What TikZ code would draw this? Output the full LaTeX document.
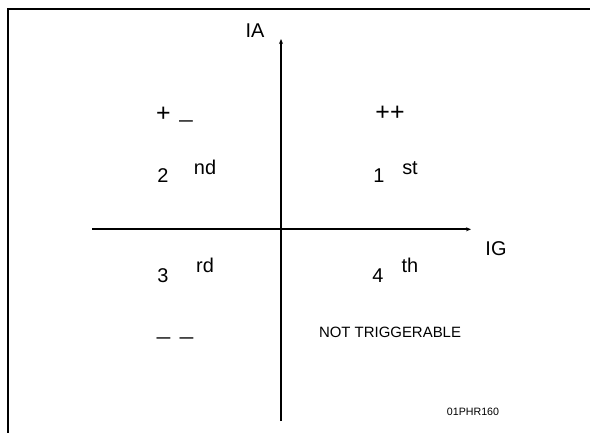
\documentclass[tikz,border=0pt]{standalone}
\usepackage{fontspec}
\setmainfont{Liberation Sans}
\usetikzlibrary{arrows.meta}
\begin{document}
\begin{tikzpicture}[x=1bp,y=-1bp,
  lbl/.style={inner sep=0pt,anchor=base,font=\fontsize{20}{20}\selectfont},
  pluslbl/.style={inner sep=0pt,anchor=base,font=\fontsize{25}{25}\selectfont},
  dashlbl/.style={lbl,xscale=1.25},
  small/.style={inner sep=0pt,anchor=base,font=\fontsize{15}{15}\selectfont},
  tiny/.style={inner sep=0pt,anchor=base,font=\fontsize{10.7}{11}\selectfont},
  axis/.style={line width=2.2bp,-{Stealth[length=5bp,width=4bp]}},
  frame/.style={line width=2.4bp}]
\useasboundingbox (0,0) rectangle (590,433);
% frame
\coordinate (ftr) at (591,9);
\coordinate (ftl) at (8,9);
\coordinate (fbl) at (8,434);
\draw[frame] (ftr) -- (ftl) -- (fbl);
% axes
\coordinate (vb) at (281,421);
\coordinate (vt) at (281,39);
\coordinate (hl) at (92,229.3);
\coordinate (hr) at (471,229.3);
\draw[axis] (vb) -- (vt);
\draw[axis] (hl) -- (hr);
% labels
\node[lbl] (ia) at (255,38) {IA};
\node[lbl] (ig) at (496,256) {IG};
\node[pluslbl] (plus2) at (163.5,122) {+};
\node[dashlbl] (minus2) at (186,127) {–};
\node[pluslbl] (pp) at (390,121) {++};
\node[lbl] (n2) at (163,183) {2};
\node[lbl] (nd) at (205,175) {nd};
\node[lbl] (n1) at (379,183) {1};
\node[lbl] (st) at (410,175) {st};
\node[lbl] (n3) at (163,283) {3};
\node[lbl] (rd) at (205,273) {rd};
\node[lbl] (n4) at (378,283) {4};
\node[lbl] (th) at (410,273) {th};
\node[dashlbl] (mm1) at (163.5,343) {–};
\node[dashlbl] (mm2) at (186.5,343) {–};
\node[small] (nt) at (390,337) {NOT TRIGGERABLE};
\node[tiny] (code) at (473,415.5) {01PHR160};
\end{tikzpicture}
\end{document}
